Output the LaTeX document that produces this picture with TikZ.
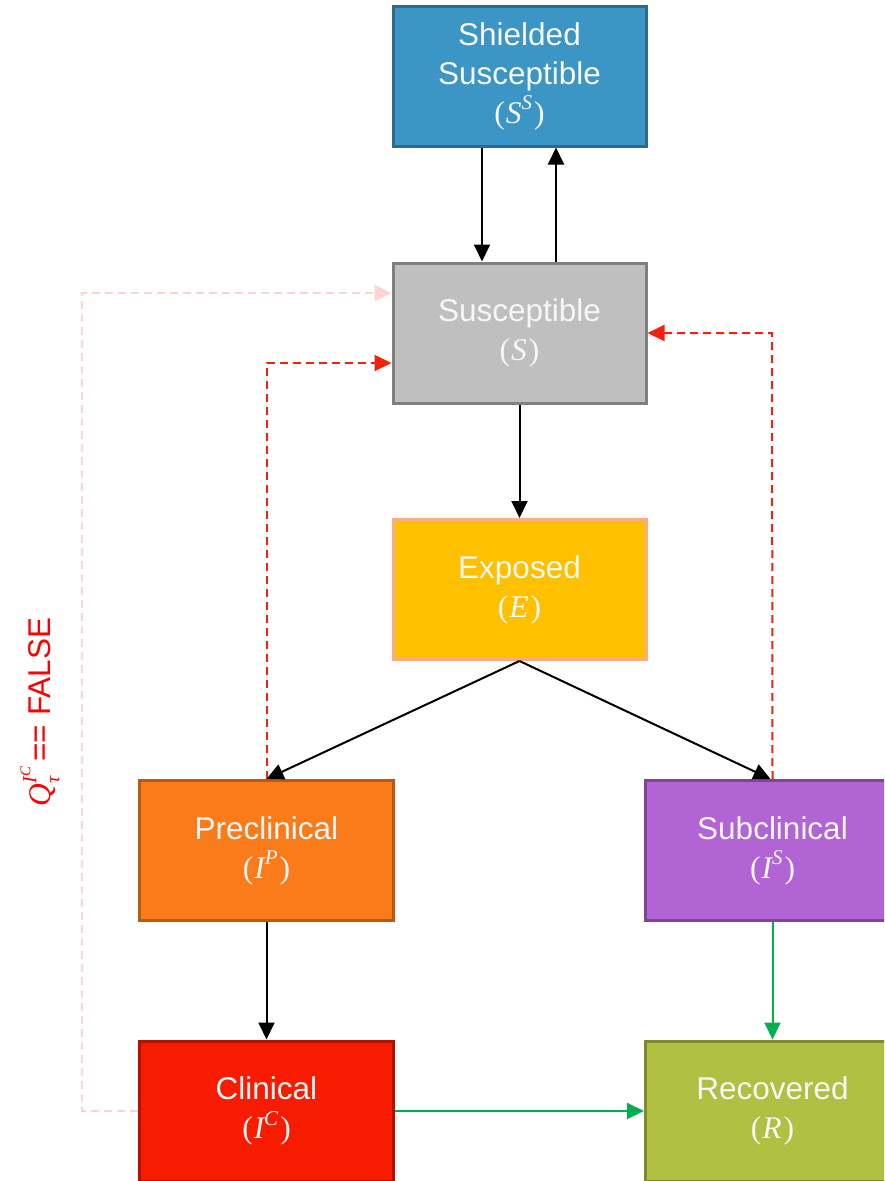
\documentclass[tikz,border=0pt]{standalone}
\usepackage{fontspec}
\setmainfont{Liberation Sans}
\newfontfamily\mfont{Liberation Serif}
\usetikzlibrary{arrows.meta,calc}
\definecolor{ssfill}{HTML}{3B95C5}
\definecolor{ssdraw}{HTML}{2C6A8C}
\definecolor{sfill}{HTML}{BFBFBF}
\definecolor{sdraw}{HTML}{7F7F7F}
\definecolor{efill}{HTML}{FFC000}
\definecolor{edraw}{HTML}{F8AE80}
\definecolor{ipfill}{HTML}{FA7B19}
\definecolor{ipdraw}{HTML}{B95A10}
\definecolor{isfill}{HTML}{B263D4}
\definecolor{isdraw}{HTML}{7F4496}
\definecolor{icfill}{HTML}{F71B00}
\definecolor{icdraw}{HTML}{B31200}
\definecolor{rfill}{HTML}{AFC043}
\definecolor{rdraw}{HTML}{7D8A2E}
\definecolor{greenarr}{HTML}{00B050}
\definecolor{reddash}{HTML}{F5200E}
\definecolor{pinkdash}{HTML}{FFD3CF}
\definecolor{boxtext}{HTML}{F7F7F7}
% math-like variable in a serif italic
\newcommand\mvar[1]{{\mfont\itshape #1}}
\newcommand\msup[2]{{\mfont\itshape #1\raisebox{0.42em}{\fontsize{21}{21}\selectfont #2}}}
\newcommand\mpar[1]{{\mfont(\kern1pt}#1{\mfont\kern2pt)}}
\begin{document}
\begin{tikzpicture}[x=1pt,y=-1pt,
  box/.style={rectangle, draw, line width=3pt, minimum width=253pt, minimum height=140pt,
    align=center, text=boxtext, inner sep=0pt, font=\fontsize{31.5}{39}\selectfont},
  arr/.style={line width=2pt, -{Triangle[length=17pt,width=16pt]}},
  blackarr/.style={arr, draw=black},
  greenline/.style={arr, draw=greenarr},
  reddashed/.style={arr, draw=reddash, dash pattern=on 8pt off 5pt},
  pinkdashed/.style={arr, draw=pinkdash, dash pattern=on 8pt off 5pt},
  lbl/.style={text=red, font=\fontsize{31.5}{36}\selectfont}
]
\clip (0,0) rectangle (884,1181);
\useasboundingbox (0,0) rectangle (884,1181);

\node[box, fill=ssfill, draw=ssdraw] (SS) at (519.5,76) {Shielded\\Susceptible\\\mpar{\msup{S}{S}}};
\node[box, fill=sfill, draw=sdraw] (S) at (519.5,333) {Susceptible\\\mpar{\mvar{S}}};
\node[box, fill=efill, draw=edraw] (E) at (519.5,589.5) {Exposed\\\mpar{\mvar{E}}};
\node[box, fill=ipfill, draw=ipdraw, minimum width=254pt] (IP) at (266.5,850.5) {Preclinical\\\mpar{\msup{I}{P}}};
\node[box, fill=isfill, draw=isdraw, minimum width=254pt] (IS) at (772.5,850.5) {Subclinical\\\mpar{\msup{I}{S}}};
\node[box, fill=icfill, draw=icdraw, minimum width=254pt] (IC) at (266.5,1111) {Clinical\\\mpar{\msup{I}{C}}};
\node[box, fill=rfill, draw=rdraw, minimum width=254pt] (R) at (772.5,1111) {Recovered\\\mpar{\mvar{R}}};

\node[lbl, rotate=90] (Q) at (40,712) {{\mfont\itshape Q\rlap{\raisebox{-0.28em}{\fontsize{20}{20}\selectfont τ}}\raisebox{0.45em}{\fontsize{20}{20}\selectfont I\raisebox{0.3em}{\fontsize{15}{15}\selectfont C}}}\,== FALSE};

\coordinate (pk1) at (82,1111);
\coordinate (pk2) at (82,293);
\coordinate (rl) at (266.5,363);
\coordinate (rr) at (772,333);

% pale dashed
\draw[pinkdashed] (IC.west) -- (pk1) -- (pk2) -- (pk2 -| S.west);
% red dashed
\draw[reddashed] (IP.north) -- (rl) -- (rl -| S.west);
\draw[reddashed] (IS.north) -- (rr) -- (S.east);

% black arrows
\draw[blackarr] ([xshift=-37.5pt]SS.south) -- ([xshift=-37.5pt]S.north);
\draw[blackarr] ([xshift=36.5pt]S.north) -- ([xshift=36.5pt]SS.south);
\draw[blackarr] (S.south) -- (E.north);
\draw[blackarr] (E.south) -- (IP.north);
\draw[blackarr] (E.south) -- ([xshift=-2pt]IS.north);
\draw[blackarr] (IP.south) -- (IC.north);

% green arrows
\draw[greenline] (IS.south) -- (R.north);
\draw[greenline] (IC.east) -- (R.west);
\end{tikzpicture}
\end{document}
